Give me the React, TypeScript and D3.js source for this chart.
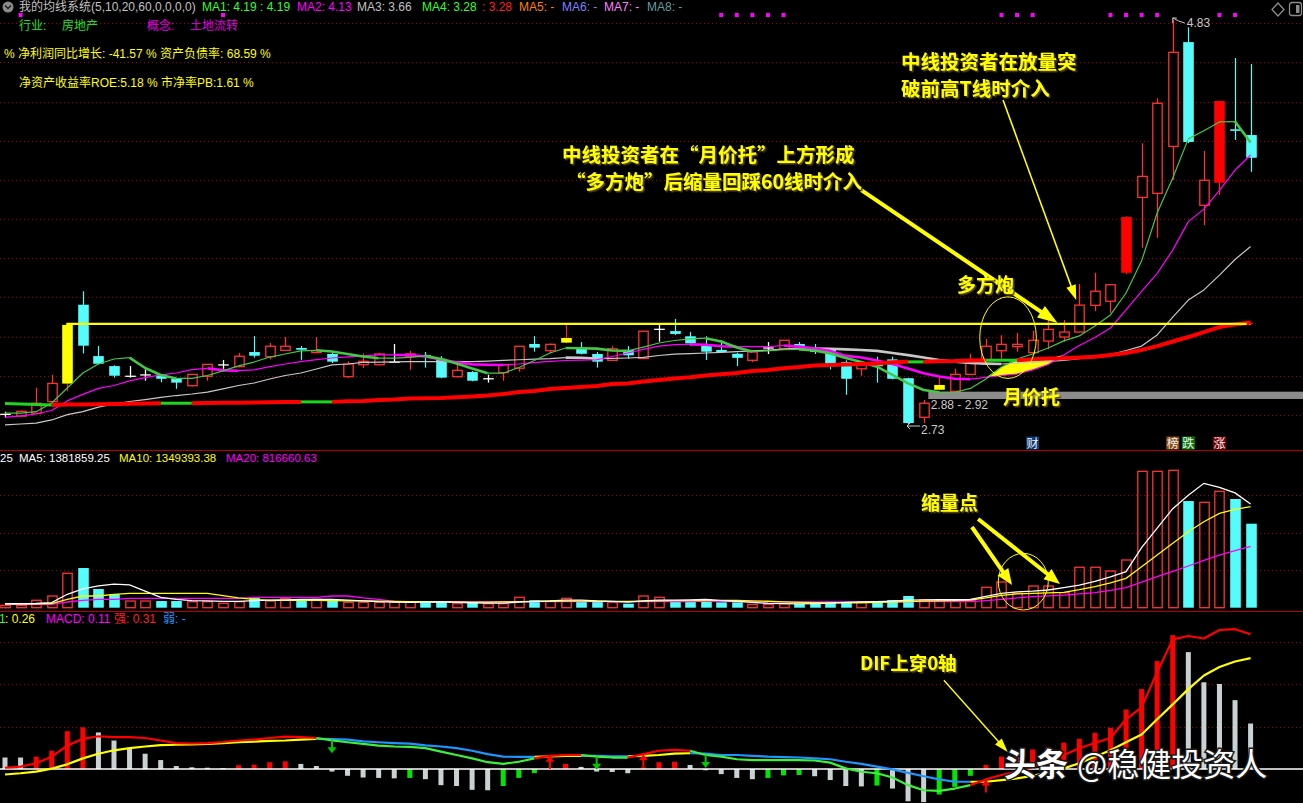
import React, { useEffect } from 'react';
import * as d3 from 'd3';

const W = 1303;
const H = 803;

// ---------- price data (81 trading days) ----------
const opens = [2.78, 2.771, 2.786, 2.846, 2.94, 3.35, 3.083, 3.031, 2.978, 2.985,
  2.988, 2.964, 2.929, 2.978, 3.037, 3.028, 3.104, 3.08, 3.113, 3.125,
  3.101, 3.094, 2.976, 3.038, 3.038, 3.051, 3.08, 3.089, 3.069, 2.976,
  3.0, 2.965, 2.997, 3.02, 3.146, 3.111, 3.153, 3.127, 3.094, 3.061,
  3.115, 3.071, 3.222, 3.213, 3.186, 3.137, 3.115, 3.095, 3.061, 3.125,
  3.121, 3.146, 3.116, 3.115, 3.052, 3.017, 3.04, 3.066, 2.968, 2.765,
  2.908, 2.9, 2.988, 3.063, 3.111, 3.132, 3.101, 3.161, 3.182, 3.208,
  3.347, 3.368, 3.516, 3.908, 3.929, 4.173, 4.715, 3.867, 3.984, 4.262, 4.232];
const closes = [2.78, 2.796, 2.838, 2.941, 3.245, 3.137, 3.043, 2.981, 2.978, 2.985,
  2.965, 2.945, 2.988, 3.04, 3.037, 3.082, 3.085, 3.134, 3.134, 3.116,
  3.111, 3.054, 3.042, 3.056, 3.094, 3.051, 3.094, 3.08, 2.971, 3.009,
  2.955, 2.965, 3.037, 3.134, 3.127, 3.144, 3.177, 3.095, 3.054, 3.121,
  3.087, 3.212, 3.222, 3.198, 3.149, 3.106, 3.104, 3.074, 3.104, 3.125,
  3.165, 3.134, 3.104, 3.042, 2.965, 3.047, 3.03, 2.965, 2.735, 2.838,
  2.933, 2.988, 3.051, 3.134, 3.144, 3.144, 3.165, 3.222, 3.208, 3.348,
  3.42, 3.454, 3.806, 4.017, 4.397, 4.662, 4.196, 3.997, 4.409, 4.256, 4.114];
const highs = [2.794, 2.8, 2.919, 2.985, 3.25, 3.42, 3.135, 3.035, 3.031, 3.014,
  2.99, 2.966, 2.99, 3.042, 3.063, 3.099, 3.187, 3.151, 3.182, 3.135,
  3.182, 3.106, 3.055, 3.097, 3.1, 3.146, 3.11, 3.104, 3.083, 3.04,
  3.005, 2.986, 3.04, 3.136, 3.187, 3.148, 3.248, 3.156, 3.104, 3.135,
  3.135, 3.215, 3.248, 3.276, 3.208, 3.186, 3.165, 3.1, 3.106, 3.156,
  3.167, 3.156, 3.146, 3.118, 3.061, 3.05, 3.08, 3.08, 2.97, 2.855,
  2.976, 3.017, 3.095, 3.172, 3.191, 3.203, 3.215, 3.271, 3.271, 3.458,
  3.516, 3.458, 3.81, 4.189, 4.423, 4.83, 4.792, 4.149, 4.41, 4.632, 4.601];
const lows = [2.761, 2.768, 2.786, 2.84, 2.9, 3.097, 3.04, 2.971, 2.971, 2.955,
  2.947, 2.913, 2.925, 2.955, 3.011, 3.025, 3.075, 3.066, 3.11, 3.063,
  3.098, 3.047, 2.97, 3.021, 3.035, 3.048, 3.012, 3.023, 2.968, 2.972,
  2.952, 2.945, 2.955, 3.002, 3.106, 3.097, 3.15, 3.092, 3.023, 3.058,
  3.069, 3.066, 3.158, 3.193, 3.137, 3.063, 3.103, 3.031, 3.052, 3.094,
  3.118, 3.118, 3.094, 3.014, 2.882, 2.981, 2.945, 2.962, 2.73, 2.735,
  2.905, 2.898, 2.985, 3.06, 3.069, 3.106, 3.098, 3.118, 3.158, 3.205,
  3.317, 3.308, 3.51, 3.646, 3.698, 3.998, 4.19, 3.764, 3.92, 4.206, 4.041];
const yellowDays = [4, 36, 60];
const solidRedDays = [72, 78];
const signalDots = [1, 14, 46, 47, 48, 49, 50, 64, 65, 66, 71, 72, 73, 74, 78, 79];

// moving averages
const ma5 = [2.787, 2.787, 2.794, 2.839, 2.917, 2.995, 3.042, 3.068, 3.075, 3.021,
  2.985, 2.967, 2.967, 2.982, 3.006, 3.032, 3.052, 3.078, 3.094, 3.11,
  3.113, 3.107, 3.094, 3.081, 3.072, 3.072, 3.076, 3.084, 3.068, 3.045,
  3.019, 2.994, 2.994, 3.024, 3.06, 3.099, 3.125, 3.124, 3.122, 3.112,
  3.11, 3.13, 3.151, 3.164, 3.172, 3.176, 3.159, 3.128, 3.107, 3.11,
  3.116, 3.118, 3.112, 3.097, 3.073, 3.052, 3.028, 2.985, 2.941, 2.907,
  2.895, 2.895, 2.915, 2.964, 3.026, 3.068, 3.094, 3.125, 3.162, 3.188,
  3.24, 3.297, 3.411, 3.578, 3.827, 4.009, 4.212, 4.254, 4.3, 4.302, 4.193];
const ma10 = [2.764, 2.772, 2.782, 2.8, 2.85, 2.884, 2.915, 2.93, 2.954, 2.971,
  2.985, 2.995, 3.013, 3.019, 3.009, 3.007, 3.011, 3.028, 3.042, 3.054,
  3.065, 3.073, 3.079, 3.084, 3.089, 3.089, 3.088, 3.081, 3.065, 3.051,
  3.04, 3.038, 3.037, 3.042, 3.049, 3.056, 3.06, 3.062, 3.064, 3.081,
  3.099, 3.118, 3.135, 3.143, 3.144, 3.142, 3.134, 3.132, 3.132, 3.132,
  3.138, 3.132, 3.122, 3.11, 3.084, 3.076, 3.06, 3.042, 3.019, 2.994,
  2.977, 2.965, 2.963, 2.972, 2.982, 2.99, 3.011, 3.039, 3.089, 3.138,
  3.18, 3.229, 3.323, 3.419, 3.513, 3.634, 3.782, 3.847, 3.944, 4.05, 4.128];
const ma20 = [2.725, 2.73, 2.735, 2.751, 2.779, 2.794, 2.818, 2.834, 2.847, 2.857,
  2.868, 2.878, 2.886, 2.896, 2.913, 2.93, 2.943, 2.964, 2.982, 2.995,
  3.016, 3.037, 3.042, 3.05, 3.052, 3.053, 3.054, 3.054, 3.054, 3.054,
  3.054, 3.057, 3.061, 3.064, 3.067, 3.07, 3.075, 3.074, 3.07, 3.071,
  3.073, 3.076, 3.086, 3.093, 3.096, 3.099, 3.102, 3.106, 3.11, 3.114,
  3.119, 3.124, 3.122, 3.121, 3.118, 3.115, 3.11, 3.099, 3.088, 3.076,
  3.063, 3.054, 3.047, 3.044, 3.042, 3.046, 3.049, 3.055, 3.061, 3.07,
  3.076, 3.091, 3.112, 3.135, 3.193, 3.286, 3.374, 3.427, 3.504, 3.585, 3.653];
const ma60 = [2.836, 2.834, 2.831, 2.829, 2.831, 2.832, 2.833, 2.834, 2.835, 2.836,
  2.838, 2.838, 2.838, 2.839, 2.84, 2.841, 2.842, 2.843, 2.844, 2.845,
  2.845, 2.845, 2.848, 2.85, 2.855, 2.857, 2.863, 2.864, 2.865, 2.869,
  2.873, 2.878, 2.886, 2.896, 2.902, 2.912, 2.917, 2.922, 2.928, 2.938,
  2.94, 2.951, 2.959, 2.966, 2.973, 2.982, 2.988, 2.995, 3.005, 3.011,
  3.02, 3.026, 3.034, 3.037, 3.039, 3.042, 3.045, 3.051, 3.053, 3.053,
  3.056, 3.057, 3.06, 3.062, 3.062, 3.062, 3.066, 3.07, 3.072, 3.076,
  3.08, 3.089, 3.099, 3.115, 3.135, 3.159, 3.182, 3.208, 3.234, 3.247, 3.258];
const breakoutLevel = 3.25;
const supportBand = { from: 59.3, top: 2.898, bottom: 2.86 };

// ---------- volume (thousands of shares) ----------
const volumesK = [32, 32, 99, 156, 459, 529, 249, 179, 89, 89,
  89, 89, 80, 80, 59, 80, 133, 89, 125, 103,
  112, 103, 72, 72, 72, 72, 72, 80, 80, 53,
  72, 53, 53, 139, 99, 85, 125, 80, 80, 72,
  53, 156, 139, 80, 80, 112, 72, 72, 45, 45,
  53, 53, 72, 80, 80, 80, 89, 103, 156, 103,
  85, 85, 103, 272, 343, 192, 289, 289, 200, 539,
  539, 489, 636, 1818, 1818, 1832, 1422, 1405, 1552, 1449, 1120];
const volMa5K = [53, 53, 56, 69, 179, 250, 290, 313, 303, 222,
  138, 111, 95, 90, 85, 85, 95, 100, 105, 110,
  112, 110, 100, 90, 80, 75, 72, 75, 77, 70,
  65, 62, 62, 75, 85, 90, 100, 100, 90, 85,
  75, 90, 100, 100, 105, 110, 95, 85, 70, 58,
  54, 52, 55, 60, 70, 77, 82, 88, 102, 105,
  106, 106, 110, 150, 190, 210, 220, 236, 267, 300,
  350, 410, 480, 800, 1060, 1320, 1500, 1658, 1605, 1530, 1382];
const volMa10K = [53, 53, 53, 55, 112, 156, 156, 179, 192, 192,
  192, 192, 192, 192, 160, 130, 112, 99, 99, 98,
  97, 95, 92, 90, 88, 85, 82, 80, 78, 76,
  75, 75, 78, 80, 84, 86, 88, 88, 86, 85,
  84, 88, 92, 95, 95, 96, 97, 96, 92, 86,
  78, 72, 68, 65, 65, 66, 70, 76, 82, 88,
  92, 95, 100, 130, 165, 185, 192, 198, 205, 240,
  280, 330, 392, 547, 702, 858, 1013, 1146, 1258, 1310, 1349];
const volMa20K = [45, 45, 45, 45, 76, 99, 112, 112, 125, 125,
  125, 125, 125, 125, 125, 125, 139, 139, 139, 139,
  139, 156, 156, 130, 110, 85, 82, 80, 80, 80,
  79, 79, 80, 80, 81, 82, 82, 81, 80, 80,
  80, 81, 82, 82, 82, 83, 82, 81, 80, 79,
  78, 78, 78, 78, 78, 79, 80, 80, 81, 81,
  81, 81, 82, 95, 112, 130, 147, 158, 169, 185,
  200, 230, 267, 340, 413, 485, 556, 630, 702, 760, 817];

// ---------- MACD ----------
const dif = [0.003, 0.0055, 0.0135, 0.029, 0.055, 0.071, 0.077, 0.075, 0.075, 0.073,
  0.067, 0.061, 0.06, 0.061, 0.0635, 0.067, 0.069, 0.073, 0.076, 0.075,
  0.073, 0.0675, 0.063, 0.059, 0.055, 0.053, 0.052, 0.049, 0.041, 0.033,
  0.025, 0.016, 0.012, 0.017, 0.025, 0.031, 0.033, 0.033, 0.029, 0.027,
  0.027, 0.035, 0.043, 0.045, 0.043, 0.033, 0.029, 0.023, 0.021, 0.021,
  0.021, 0.021, 0.02, 0.015, 0.0015, -0.0065, -0.01, -0.02, -0.038, -0.05,
  -0.0515, -0.046, -0.038, -0.0245, -0.014, -0.006, 0.005, 0.018, 0.033, 0.049,
  0.061, 0.073, 0.117, 0.145, 0.228, 0.305, 0.313, 0.307, 0.327, 0.329, 0.317];
const dea = [-0.013, -0.01, -0.006, 0.001, 0.011, 0.025, 0.036, 0.044, 0.049, 0.053,
  0.056, 0.057, 0.058, 0.059, 0.061, 0.063, 0.0645, 0.066, 0.067, 0.069,
  0.071, 0.0705, 0.069, 0.065, 0.063, 0.061, 0.0595, 0.0555, 0.053, 0.049,
  0.043, 0.035, 0.029, 0.0285, 0.0285, 0.0295, 0.031, 0.031, 0.031, 0.03,
  0.03, 0.031, 0.033, 0.036, 0.037, 0.036, 0.033, 0.033, 0.031, 0.029,
  0.028, 0.027, 0.025, 0.023, 0.017, 0.012, 0.0055, -0.001, -0.009, -0.017,
  -0.0245, -0.03, -0.03, -0.03, -0.026, -0.022, -0.016, -0.008, 0.0015, 0.0135,
  0.029, 0.044, 0.063, 0.081, 0.117, 0.152, 0.188, 0.22, 0.24, 0.253, 0.261];
const macdHist = [0.027, 0.027, 0.029, 0.043, 0.089, 0.098, 0.086, 0.067, 0.048, 0.036,
  0.021, 0.007, 0.004, 0.003, 0.002, 0.009, 0.01, 0.016, 0.018, 0.012,
  0.007, -0.006, -0.016, -0.02, -0.021, -0.022, -0.021, -0.024, -0.038, -0.04,
  -0.049, -0.05, -0.04, -0.021, -0.0095, 0.003, 0.012, 0.005, -0.006, -0.007,
  -0.01, 0.004, 0.016, 0.017, 0.0095, -0.003, -0.012, -0.021, -0.024, -0.021,
  -0.015, -0.014, -0.017, -0.026, -0.04, -0.041, -0.039, -0.046, -0.076, -0.078,
  -0.06, -0.042, -0.016, 0.0095, 0.029, 0.04, 0.046, 0.052, 0.062, 0.071,
  0.085, 0.097, 0.14, 0.188, 0.254, 0.315, 0.275, 0.204, 0.2, 0.162, 0.107];
const crossUp = [35, 41, 63];
const crossDown = [21, 38, 45];

// ---------- colours ----------
const RED = '#ff3232';
const CYAN = '#54fcfc';
const YEL = '#ffff00';
const GRID = '#a00000';
const CJK = '"Noto Sans CJK SC", sans-serif';
const UI = '"Liberation Sans", Arial, "Noto Sans CJK SC", sans-serif';

type Run = { c: string; w: number; pts: [number, number][] };
function runs(vals: number[], style: (i: number) => { c: string; w: number }): Run[] {
  const out: Run[] = [];
  let cur: (Run & { key: string }) | null = null;
  for (let i = 1; i < vals.length; i++) {
    const s = style(i);
    const key = s.c + '|' + s.w;
    if (!cur || cur.key !== key) {
      cur = { key, c: s.c, w: s.w, pts: [[i - 1, vals[i - 1]]] };
      out.push(cur);
    }
    cur.pts.push([i, vals[i]]);
  }
  return out;
}

function arrow(x1: number, y1: number, x2: number, y2: number, hl: number, hw: number) {
  const dx = x2 - x1, dy = y2 - y1, L = Math.hypot(dx, dy);
  const ux = dx / L, uy = dy / L;
  const bx = x2 - ux * hl, by = y2 - uy * hl;
  const px = -uy, py = ux;
  return {
    line: [x1, y1, bx + ux * 2, by + uy * 2],
    head: `${x2},${y2} ${bx + (px * hw) / 2},${by + (py * hw) / 2} ${bx - (px * hw) / 2},${by - (py * hw) / 2}`,
  };
}

function Label({ x, y, size, children }: any) {
  return (
    <text x={x} y={y} fill={YEL} fontFamily={CJK} fontWeight={700} fontSize={size} filter="url(#txtShadow)">
      {children}
    </text>
  );
}

export default function App() {
  useEffect(() => {
    document.body.style.margin = '0';
    document.body.style.background = '#000';
  }, []);

  const n = closes.length;
  const x = d3.scaleLinear().domain([0, n - 1]).range([5, 1250.6]);
  const y = d3.scaleLinear().domain([2.73, 4.83]).range([424, 20]);
  const yv = d3.scaleLinear().domain([0, 1500000]).range([607.7, 495.2]);
  const ym = d3.scaleLinear().domain([0, 0.3]).range([769, 641.5]);
  const bodyW = 10.6;

  const priceLine = d3.line<[number, number]>().x((p) => x(p[0])).y((p) => y(p[1]));
  const volLine = d3.line<number>().x((_, i) => x(i)).y((v) => yv(v * 1000));
  const macdLine = d3.line<[number, number]>().x((p) => x(p[0])).y((p) => ym(p[1]));

  const fallStyle = (vals: number[], color: string) => (i: number) =>
    vals[i] < vals[i - 1] ? { c: color, w: 2.6 } : { c: color, w: 1.2 };

  const ma5Runs = runs(ma5, fallStyle(ma5, '#45c845'));
  const ma10Runs = runs(ma10, fallStyle(ma10, '#ff00ff'));
  const ma20Runs = runs(ma20, fallStyle(ma20, '#c8c8c8'));
  const ma60Runs = runs(ma60, (i) => (ma60[i] > ma60[i - 1] ? { c: '#ff0000', w: 4 } : { c: '#1fd61f', w: 3 }));
  const difRuns = runs(dif, (i) => (dif[i] >= dea[i] ? { c: '#ff0000', w: 2.2 } : { c: '#3cf03c', w: 2.2 }));
  const deaRuns = runs(dea, (i) => (dif[i] >= dea[i] ? { c: '#ffff00', w: 2.2 } : { c: '#1e96ff', w: 2.2 }));

  // yellow wedge ("月价托") between MA10 and the lower of MA5 / MA60
  const wedgeIdx = d3.range(63, 69);
  const wedge = d3
    .area<number>()
    .x((i) => x(i))
    .y0((i) => y(ma10[i]))
    .y1((i) => y(Math.max(ma10[i], Math.min(ma5[i], ma60[i]))))(wedgeIdx);

  const priceGrid = d3.range(11).map((k) => 23.3 + 39.15 * k);

  const a1 = arrow(x(55.0), y(3.946), x(67.6), y(3.255), 20, 14);
  const a2 = arrow(x(64.1), y(4.414), x(68.8), y(3.374), 15, 10);
  const a3 = arrow(x(62.1), yv(1076000), x(64.68), yv(303000), 16, 13);
  const a4 = arrow(x(62.5), yv(1183000), x(67.76), yv(316000), 16, 13);
  const a5 = arrow(x(60.3), ym(0.209), x(64.4), ym(0.04), 14, 9);

  const candleEls = closes.map((c, i) => {
    const o = opens[i], h = highs[i], l = lows[i];
    const cx = Math.round(x(i)) + 0.5;
    const top = y(Math.max(o, c)), bot = y(Math.min(o, c));
    if (yellowDays.includes(i) || solidRedDays.includes(i)) {
      const fill = yellowDays.includes(i) ? YEL : '#ff0000';
      return (
        <g key={i}>
          <line x1={cx} x2={cx} y1={y(h)} y2={y(l)} stroke="#ff2020" strokeWidth={1.2} />
          <rect x={cx - bodyW / 2} y={top} width={bodyW} height={Math.max(1.5, bot - top)} fill={fill} />
        </g>
      );
    }
    if (c === o) {
      return (
        <g key={i} stroke="#ffffff" strokeWidth={1.3}>
          <line x1={cx} x2={cx} y1={y(h)} y2={y(l)} />
          <line x1={cx - bodyW / 2} x2={cx + bodyW / 2} y1={y(c)} y2={y(c)} />
        </g>
      );
    }
    if (c > o) {
      return (
        <g key={i} stroke={RED} strokeWidth={1.3} fill="#000">
          <line x1={cx} x2={cx} y1={y(h)} y2={top} />
          <line x1={cx} x2={cx} y1={bot} y2={y(l)} />
          <rect x={cx - bodyW / 2 + 0.6} y={top} width={bodyW - 1.2} height={Math.max(1.5, bot - top)} />
        </g>
      );
    }
    return (
      <g key={i}>
        <line x1={cx} x2={cx} y1={y(h)} y2={y(l)} stroke={CYAN} strokeWidth={1.2} />
        <rect x={cx - bodyW / 2} y={top} width={bodyW} height={Math.max(1.6, bot - top)} fill={CYAN} />
      </g>
    );
  });

  const volEls = volumesK.map((v, i) => {
    const cx = Math.round(x(i)) + 0.5;
    const top = yv(v * 1000), base = yv(0);
    const up = closes[i] >= opens[i];
    return up ? (
      <rect key={i} x={cx - bodyW / 2 + 0.6} y={top} width={bodyW - 1.2} height={base - top} fill="none" stroke={RED} strokeWidth={1.3} />
    ) : (
      <rect key={i} x={cx - bodyW / 2} y={top} width={bodyW} height={base - top} fill={CYAN} />
    );
  });

  const histEls = macdHist.map((v, i) => {
    const prev = i > 0 ? macdHist[i - 1] : Infinity;
    const color = v > prev ? (v >= 0 ? '#ff0000' : '#00e600') : '#c8d2d2';
    const y0 = ym(0), y1 = ym(v);
    return <rect key={i} x={x(i) - 2.5} y={Math.min(y0, y1)} width={5} height={Math.max(1, Math.abs(y1 - y0))} fill={color} />;
  });

  const crossEls = [
    ...crossUp.map((i) => {
      const tip = ym(dif[i]);
      const cx = x(i);
      return (
        <g key={'u' + i} fill="#ff0000" stroke="#ff0000">
          <line x1={cx} x2={cx} y1={tip + 13} y2={tip + 4} strokeWidth={2} />
          <polygon points={`${cx},${tip} ${cx - 4.5},${tip + 6} ${cx + 4.5},${tip + 6}`} stroke="none" />
        </g>
      );
    }),
    ...crossDown.map((i) => {
      const st = ym(dif[i]);
      const cx = x(i);
      return (
        <g key={'d' + i} fill="#00c800" stroke="#00c800">
          <line x1={cx} x2={cx} y1={st} y2={st + 8} strokeWidth={2} />
          <polygon points={`${cx},${st + 13} ${cx - 4.5},${st + 7} ${cx + 4.5},${st + 7}`} stroke="none" />
        </g>
      );
    }),
  ];

  const tagBoxes = [
    { i: 66, t: '财', bg: '#0d3a73' },
    { i: 75, t: '榜', bg: '#8a4a12' },
    { i: 76, t: '跌', bg: '#0a7a0a' },
    { i: 78, t: '涨', bg: '#7a0000' },
  ];

  const hiIdx = highs.indexOf(d3.max(highs) as number);
  const loIdx = lows.indexOf(d3.min(lows) as number);

  return (
    <svg width={W} height={H} style={{ display: 'block', background: '#000' }}>
      <defs>
        <filter id="txtShadow" x="-5%" y="-20%" width="115%" height="150%">
          <feDropShadow dx={1.5} dy={1.5} stdDeviation={0.3} floodColor="#5a4600" floodOpacity={1} />
        </filter>
      </defs>
      <rect width={W} height={H} fill="#000" />

      {/* ---------- grid & separators ---------- */}
      <g stroke={GRID} strokeWidth={1} strokeDasharray="1 3">
        {priceGrid.map((g, k) => (
          <line key={'pg' + k} x1={0} x2={W} y1={Math.round(g) + 0.5} y2={Math.round(g) + 0.5} />
        ))}
        {[500000, 1000000, 1500000].map((v) => (
          <line key={'vg' + v} x1={0} x2={W} y1={Math.round(yv(v)) + 0.5} y2={Math.round(yv(v)) + 0.5} />
        ))}
        {[0.1, 0.2, 0.3].map((v) => (
          <line key={'mg' + v} x1={0} x2={W} y1={Math.round(ym(v)) + 0.5} y2={Math.round(ym(v)) + 0.5} />
        ))}
      </g>
      <line x1={0} x2={W} y1={450.5} y2={450.5} stroke="#b40000" strokeWidth={1.2} />
      <line x1={0} x2={W} y1={611.5} y2={611.5} stroke="#b40000" strokeWidth={1.2} />

      {/* ---------- header texts ---------- */}
      <g fontFamily={UI} fontSize={12}>
        <circle cx={8} cy={7} r={5.5} fill="#8c8c8c" />
        <path d="M5,5.5 L8,8.5 L11,5.5" fill="none" stroke="#222" strokeWidth={1.5} />
        <text x={19} y={11} fill="#c0c0c0">我的均线系统(5,10,20,60,0,0,0,0)</text>
        <text x={202} y={11} fill="#33ff33">MA1: 4.19 : 4.19</text>
        <text x={297} y={11} fill="#ff00ff">MA2: 4.13</text>
        <text x={357} y={11} fill="#c0c0c0">MA3: 3.66</text>
        <text x={422} y={11} fill="#33ff33">MA4: 3.28</text>
        <text x={482} y={11} fill="#ff2020">: 3.28</text>
        <text x={519} y={11} fill="#ff8000">MA5: -</text>
        <text x={562} y={11} fill="#8080ff">MA6: -</text>
        <text x={604} y={11} fill="#ff80ff">MA7: -</text>
        <text x={647} y={11} fill="#5f9ea0">MA8: -</text>

        <text x={19} y={29.5} fill="#22e022">行业:</text>
        <text x={62} y={29.5} fill="#22e022">房地产</text>
        <text x={147} y={29.5} fill="#e000e0">概念:</text>
        <text x={190} y={29.5} fill="#e000e0">土地流转</text>
        <text x={4} y={57.5} fill={YEL}>% 净利润同比增长: -41.57 % 资产负债率: 68.59 %</text>
        <text x={19} y={86.5} fill={YEL}>净资产收益率ROE:5.18 % 市净率PB:1.61 %</text>
      </g>
      <g stroke="#8c8c8c" fill="none" strokeWidth={1.3}>
        <polygon points="1278,3 1284,9.5 1278,16 1272,9.5" />
        <rect x={1289.5} y={2.5} width={12} height={13} rx={2.5} />
        <rect x={1296} y={5} width={3.5} height={8} fill="#8c8c8c" stroke="none" />
      </g>
      {signalDots.map((i) => (
        <rect key={'dot' + i} x={x(i) - 2} y={13} width={4} height={4} fill="#ff00ff" />
      ))}

      {/* ---------- price panel ---------- */}
      <rect
        x={x(supportBand.from)}
        y={y(supportBand.top)}
        width={W - x(supportBand.from)}
        height={y(supportBand.bottom) - y(supportBand.top)}
        fill="#8c8c8c"
      />
      <path d={wedge || ''} fill={YEL} />
      {candleEls}
      {[...ma20Runs, ...ma10Runs, ...ma5Runs, ...ma60Runs].map((r, k) => (
        <path key={'ma' + k} d={priceLine(r.pts) || ''} fill="none" stroke={r.c} strokeWidth={r.w} strokeLinejoin="round" />
      ))}
      <line x1={x(4) - 1} x2={x(n - 1)} y1={y(breakoutLevel)} y2={y(breakoutLevel)} stroke={YEL} strokeWidth={2.3} />
      <polygon
        points={`${x(n - 1) + 3},${y(ma60[n - 1]) + 1} ${x(n - 1) - 4},${y(ma60[n - 1]) - 2} ${x(n - 1) - 4},${y(ma60[n - 1]) + 3}`}
        fill="#ff0000"
      />

      {/* extreme labels */}
      <g fontFamily={UI} fontSize={12} fill="#c8c8c8">
        <path
          d={`M${x(hiIdx) + 12},${y(highs[hiIdx]) + 3} L${x(hiIdx) + 6},${y(highs[hiIdx]) + 1} L${x(hiIdx)},${y(highs[hiIdx]) - 2} M${x(hiIdx)},${y(highs[hiIdx]) - 2} l0,5 M${x(hiIdx)},${y(highs[hiIdx]) - 2} l4,0`}
          stroke="#c8c8c8"
          fill="none"
          strokeWidth={1}
        />
        <text x={x(hiIdx) + 14} y={y(highs[hiIdx]) + 7}>{highs[hiIdx].toFixed(2)}</text>
        <path d={`M${x(loIdx) + 12},${y(lows[loIdx]) + 2} L${x(loIdx) - 1},${y(lows[loIdx]) + 2} l3,-3 M${x(loIdx) - 1},${y(lows[loIdx]) + 2} l3,3`} stroke="#c8c8c8" fill="none" />
        <text x={x(loIdx) + 13} y={y(lows[loIdx]) + 10}>{lows[loIdx].toFixed(2)}</text>
        <text x={x(59) + 7} y={y(2.81)}>2.88 - 2.92</text>
      </g>

      {/* tag boxes */}
      {tagBoxes.map((b) => (
        <g key={b.t}>
          <rect x={x(b.i) - 6.5} y={436.5} width={13} height={13} fill={b.bg} />
          <text x={x(b.i)} y={447.5} fontFamily={CJK} fontSize={12} fill="#f0f0f0" textAnchor="middle">
            {b.t}
          </text>
        </g>
      ))}

      {/* annotations in price panel */}
      <ellipse cx={x(64.42)} cy={y(3.179)} rx={28.3} ry={40.8} fill="none" stroke={YEL} strokeWidth={1} />
      <g stroke={YEL} fill={YEL}>
        <line x1={a1.line[0]} y1={a1.line[1]} x2={a1.line[2]} y2={a1.line[3]} strokeWidth={4} />
        <polygon points={a1.head} stroke="none" />
        <line x1={a2.line[0]} y1={a2.line[1]} x2={a2.line[2]} y2={a2.line[3]} strokeWidth={1.6} />
        <polygon points={a2.head} stroke="none" />
      </g>
      <Label x={562} y={162} size={19.5}>中线投资者在“月价托”上方形成</Label>
      <Label x={566} y={189} size={19.5}>“多方炮”后缩量回踩60线时介入</Label>
      <Label x={901} y={69} size={19.5}>中线投资者在放量突</Label>
      <Label x={901} y={96} size={19.5}>破前高T线时介入</Label>
      <Label x={957} y={292} size={19}>多方炮</Label>
      <Label x={1003} y={404} size={19}>月价托</Label>

      {/* ---------- volume panel ---------- */}
      <g fontFamily={UI} fontSize={11.5}>
        <text x={0} y={462} fill="#ffffff">25</text>
        <text x={19} y={462} fill="#ffffff">MA5: 1381859.25</text>
        <text x={119} y={462} fill={YEL}>MA10: 1349393.38</text>
        <text x={226} y={462} fill="#ff00ff">MA20: 816660.63</text>
      </g>
      {volEls}
      <path d={volLine(volMa20K) || ''} fill="none" stroke="#ff00ff" strokeWidth={1.3} />
      <path d={volLine(volMa10K) || ''} fill="none" stroke={YEL} strokeWidth={1.3} />
      <path d={volLine(volMa5K) || ''} fill="none" stroke="#ffffff" strokeWidth={1.3} />
      <ellipse cx={x(65.4)} cy={yv(347000)} rx={25} ry={28.3} fill="none" stroke={YEL} strokeWidth={1} />
      <g stroke={YEL} fill={YEL}>
        <line x1={a3.line[0]} y1={a3.line[1]} x2={a3.line[2]} y2={a3.line[3]} strokeWidth={4} />
        <polygon points={a3.head} stroke="none" />
        <line x1={a4.line[0]} y1={a4.line[1]} x2={a4.line[2]} y2={a4.line[3]} strokeWidth={4} />
        <polygon points={a4.head} stroke="none" />
      </g>
      <Label x={921} y={510} size={19}>缩量点</Label>

      {/* ---------- MACD panel ---------- */}
      <g fontFamily={UI} fontSize={12}>
        <text x={-1} y={623} fill="#33ff33">1</text>
        <text x={5} y={623} fill={YEL}>: 0.26</text>
        <text x={46} y={623} fill="#ff00ff">MACD: 0.11</text>
        <text x={114} y={623} fill="#ff2020">强: 0.31</text>
        <text x={163} y={623} fill="#1e96ff">弱: -</text>
      </g>
      {histEls}
      <line x1={0} x2={W} y1={ym(0)} y2={ym(0)} stroke="#ffffff" strokeWidth={1.4} />
      {[...deaRuns, ...difRuns].map((r, k) => (
        <path key={'m' + k} d={macdLine(r.pts) || ''} fill="none" stroke={r.c} strokeWidth={r.w} strokeLinejoin="round" />
      ))}
      {crossEls}
      <g stroke={YEL} fill={YEL}>
        <line x1={a5.line[0]} y1={a5.line[1]} x2={a5.line[2]} y2={a5.line[3]} strokeWidth={1.4} />
        <polygon points={a5.head} stroke="none" />
      </g>
      <Label x={860} y={670} size={18.5}>DIF上穿0轴</Label>

      {/* watermark */}
      <g fontFamily={CJK} fontSize={32} fill="#ffffff" stroke="#1a1a1a" strokeWidth={3} style={{ paintOrder: 'stroke' }}>
        <text x={1004} y={776} fontWeight={700}>头条</text>
        <text x={1077} y={776} fontWeight={400}>@稳健投资人</text>
      </g>
    </svg>
  );
}
